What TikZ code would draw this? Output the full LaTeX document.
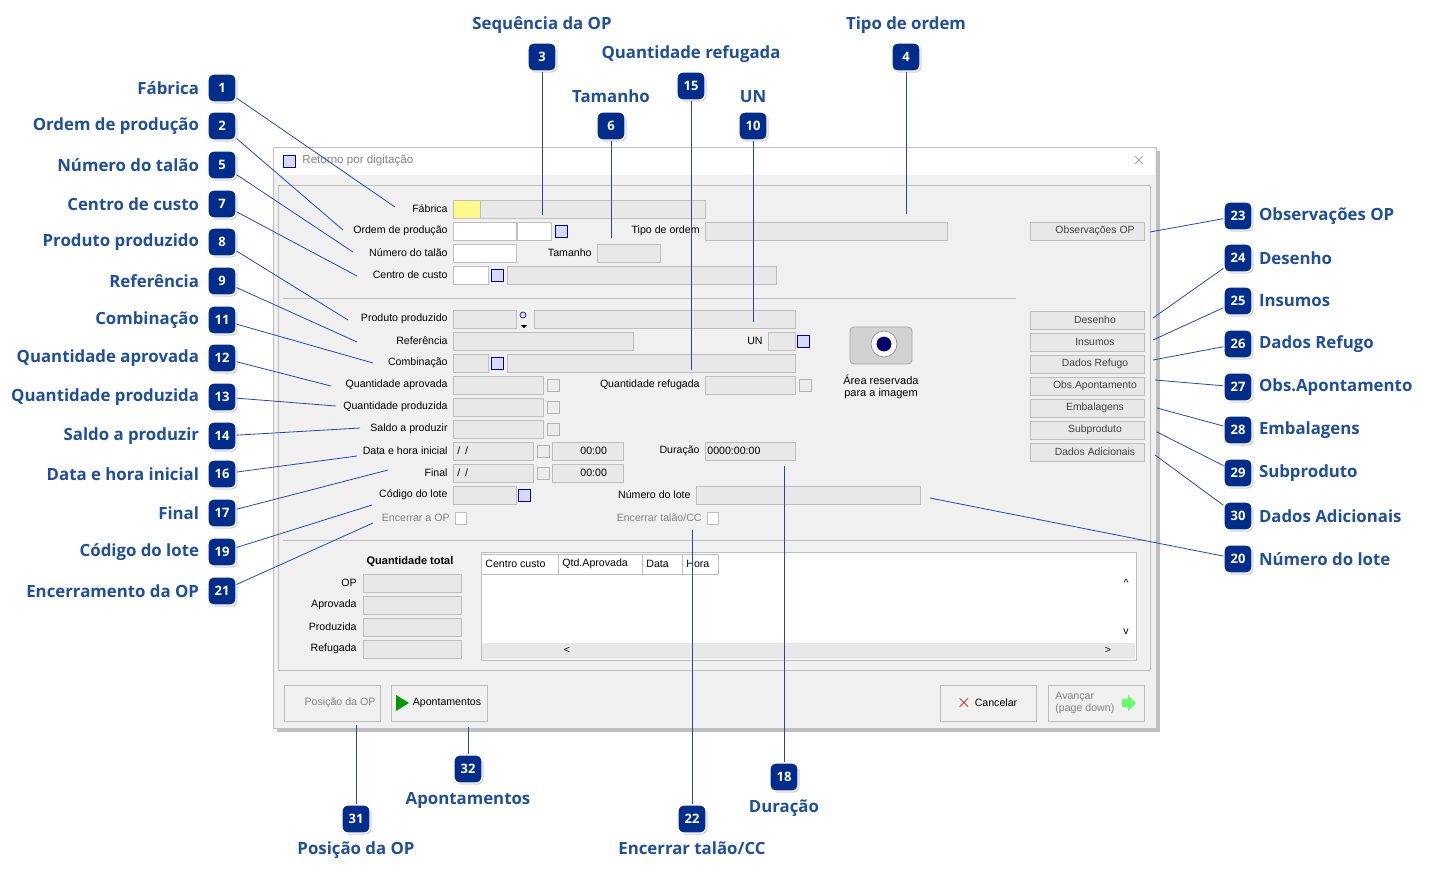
\documentclass[tikz,border=0pt]{standalone}
\usepackage{fontspec}
\setmainfont{Liberation Sans}
\newfontfamily\calloutfont{Open Sans}
\usetikzlibrary{positioning,shadows}
\definecolor{navy}{RGB}{0,45,140}
\definecolor{capBlue}{RGB}{31,78,154}
\definecolor{leadBlue}{RGB}{40,70,170}
\definecolor{winGray}{RGB}{240,240,240}
\definecolor{fldGray}{RGB}{232,232,232}
\definecolor{edgeGray}{RGB}{190,190,190}
\definecolor{txtGray}{RGB}{130,130,130}

\tikzset{
  badge/.style={rectangle,rounded corners=3pt,fill=navy,draw=white,line width=0.6pt,
    minimum size=14pt,inner sep=0pt,text=white,font=\calloutfont\bfseries\fontsize{6.5}{7}\selectfont,
    drop shadow={shadow xshift=0.8pt,shadow yshift=-0.8pt,opacity=0.35}},
  callout/.style={text=capBlue,font=\calloutfont\bfseries\fontsize{8.4}{10}\selectfont,inner sep=1pt},
  lead/.style={draw=leadBlue,line width=0.4pt},
  fld/.style={draw=edgeGray,fill=fldGray,line width=0.4pt},
  wfld/.style={draw=edgeGray,fill=white,line width=0.4pt},
  lbl/.style={font=\fontsize{5.3}{6}\selectfont,inner sep=0pt,anchor=east},
  glbl/.style={lbl,text=txtGray},
  btn/.style={draw=edgeGray,fill=fldGray,minimum width=57pt,minimum height=9pt,inner sep=0pt,
    font=\fontsize{5.2}{6}\selectfont,text=black!75},
  bigbtn/.style={draw=edgeGray,fill=winGray,minimum width=48pt,minimum height=18pt,inner sep=0pt,
    font=\fontsize{5.3}{6}\selectfont,align=left},
  ico/.style={draw=blue!60!black,fill=blue!15,line width=0.3pt},
  gico/.style={draw=gray!60,fill=gray!15,line width=0.3pt}
}

\begin{document}
\begin{tikzpicture}[x=0.5pt,y=-0.5pt]
\useasboundingbox (0,0) rectangle (1432,880);
%------------------------------------------------------------------------
% The window
%------------------------------------------------------------------------
\fill[black,opacity=0.25] (277,151) rectangle (1160,732);
\draw[edgeGray,fill=winGray] (273,147) rectangle (1156,728);
\fill[white] (274,148) rectangle (1155,175);
\draw[ico] (283,155) rectangle (295,167);
\node[lbl,anchor=west,text=txtGray,font=\fontsize{5.8}{7}\selectfont] (title) at (302,161) {Retorno por digitação};
\node[font=\fontsize{8}{8}\selectfont,text=txtGray] (close) at (1139,160) {$\times$};
\draw[edgeGray] (278,185) rectangle (1150,670);
\draw[edgeGray] (283,298) -- (1016,298);
\draw[edgeGray] (283,540) -- (1146,540);
%------------------------------------------------------------------------
% Fields of the form
%------------------------------------------------------------------------
\node[lbl] (lFab) at (448,209) {Fábrica};
\draw[fld,fill=yellow!45] (453,200) rectangle (480,218);
\draw[fld] (480,200) rectangle (705,218);
\node[lbl] (lOrd) at (448,231) {Ordem de produção};
\draw[wfld] (453,222) rectangle (516,240);
\draw[wfld] (517,222) rectangle (551,240);
\draw[ico] (555,225) rectangle (567,237);
\node[lbl] (lTipo) at (700,231) {Tipo de ordem};
\draw[fld] (705,222) rectangle (947,240);
\node[lbl] (lTal) at (448,253) {Número do talão};
\draw[wfld] (453,244) rectangle (516,262);
\node[lbl] (lTam) at (592,253) {Tamanho};
\draw[fld] (597,244) rectangle (660,262);
\node[lbl] (lCC) at (448,275) {Centro de custo};
\draw[wfld] (453,266) rectangle (488,284);
\draw[ico] (491,269) rectangle (503,281);
\draw[fld] (507,266) rectangle (776,284);

\node[lbl] (lProd) at (448,319) {Produto produzido};
\draw[fld] (453,310) rectangle (516,328);
\draw[ico] (523,315) circle (3);
\fill (521,325) -- (527,325) -- (524,328) -- cycle;
\draw[fld] (534,310) rectangle (795,328);
\node[lbl] (lRef) at (448,341) {Referência};
\draw[fld] (453,332) rectangle (633,350);
\node[lbl] (lUN) at (763,341) {UN};
\draw[fld] (768,332) rectangle (795,350);
\draw[ico] (797,335) rectangle (809,347);
\node[lbl] (lComb) at (448,363) {Combinação};
\draw[fld] (453,354) rectangle (488,372);
\draw[ico] (491,357) rectangle (503,369);
\draw[fld] (507,354) rectangle (795,372);
\node[lbl] (lApr) at (448,385) {Quantidade aprovada};
\draw[fld] (453,376) rectangle (543,394);
\draw[gico] (547,379) rectangle (559,391);
\node[lbl] (lRefug) at (700,385) {Quantidade refugada};
\draw[fld] (705,376) rectangle (795,394);
\draw[gico] (799,379) rectangle (811,391);
\node[lbl] (lPrd) at (448,407) {Quantidade produzida};
\draw[fld] (453,398) rectangle (543,416);
\draw[gico] (547,401) rectangle (559,413);
\node[lbl] (lSaldo) at (448,429) {Saldo a produzir};
\draw[fld] (453,420) rectangle (543,438);
\draw[gico] (547,423) rectangle (559,435);
\node[lbl] (lIni) at (448,451) {Data e hora inicial};
\draw[fld] (453,442) rectangle (533,460);
\node[lbl,anchor=west] (vIni) at (457,451) {/ \,/};
\draw[gico] (537,445) rectangle (549,457);
\draw[fld] (552,442) rectangle (623,460);
\node[lbl,anchor=west] (hIni) at (580,451) {00:00};
\node[lbl] (lDur) at (700,451) {Duração};
\draw[fld] (705,442) rectangle (795,460);
\node[lbl,anchor=west] (vDur) at (707,451) {0000:00:00};
\node[lbl] (lFin) at (448,473) {Final};
\draw[fld] (453,464) rectangle (533,482);
\node[lbl,anchor=west] (vFin) at (457,473) {/ \,/};
\draw[gico] (537,467) rectangle (549,479);
\draw[fld] (552,464) rectangle (623,482);
\node[lbl,anchor=west] (hFin) at (580,473) {00:00};
\node[lbl] (lLote) at (448,495) {Código do lote};
\draw[fld] (453,486) rectangle (516,504);
\draw[ico] (518,489) rectangle (530,501);
\node[lbl] (lNLote) at (691,495) {Número do lote};
\draw[fld] (696,486) rectangle (920,504);
\node[glbl] (lEncOP) at (450,518) {Encerrar a OP};
\draw[wfld] (455,512) rectangle (466,524);
\node[glbl] (lEncTal) at (702,518) {Encerrar talão/CC};
\draw[wfld] (707,512) rectangle (718,524);
%------------------------------------------------------------------------
% Totals and grid
%------------------------------------------------------------------------
\node[lbl,anchor=center,font=\bfseries\fontsize{5.5}{6}\selectfont] (lTot) at (410,562) {Quantidade total};
\foreach \t/\y in {OP/583,Aprovada/605,Produzida/627,Refugada/649}{
  \node[lbl] at (357,\y) {\t};
  \draw[fld] (363,\y-9) rectangle (461,\y+9);
}
\draw[edgeGray,fill=white] (481,552) rectangle (1136,660);
\fill[fldGray] (482,643) rectangle (1135,659);
\foreach \a/\b/\t in {481/558/Centro custo,558/642/Qtd.Aprovada,642/682/Data,682/718/Hora}{
  \draw[edgeGray,fill=white] (\a,554) rectangle (\b,574);
  \node[lbl,anchor=west] at (\a+4,564) {\t};
}
\node[lbl,anchor=center] at (1126,583) {\^{}};
\node[lbl,anchor=center] at (1126,632) {v};
\node[lbl,anchor=center] at (567,650) {<};
\node[lbl,anchor=center] at (1108,650) {>};
%------------------------------------------------------------------------
% Image area and side buttons
%------------------------------------------------------------------------
\draw[gray!70,fill=gray!35,rounded corners=2pt] (850,327) rectangle (912,364);
\draw[gray!80,fill=white] (884,344) circle (13);
\draw[blue!50!black,fill=blue!40!black] (884,344) circle (7);
\node[lbl,anchor=center,font=\fontsize{5.5}{6}\selectfont] (img1) at (881,380) {Área reservada};
\node[lbl,anchor=center,font=\fontsize{5.5}{6}\selectfont] (img2) at (881,394) {para a imagem};
\node[btn] (bObs) at (1087,231) {\hspace{8pt}Observações OP};
\foreach \y/\t in {320/Desenho,342/Insumos,364/Dados Refugo,386/Obs.Apontamento,408/Embalagens,430/Subproduto,452/Dados Adicionais}{
  \node[btn] at (1087,\y) {\hspace{8pt}\t};
}
\node[bigbtn,text=txtGray] (bPos) at (332,703) {\hspace{8pt}Posição da OP};
\node[bigbtn] (bApt) at (439,703) {\hspace{8pt}Apontamentos};
\fill[green!60!black] (396,695) -- (396,711) -- (409,703) -- cycle;
\node[bigbtn] (bCan) at (988,703) {\hspace{8pt}Cancelar};
\node[red!80!black,font=\bfseries\fontsize{9}{9}\selectfont] at (964,703) {$\times$};
\node[bigbtn,text=txtGray] (bAv) at (1096,703) {};
\node[lbl,anchor=west,align=left,text=txtGray] (tAv) at (1055,703) {Avançar\\(page down)};
\fill[green!60] (1122,699) -- (1128,699) -- (1128,695) -- (1136,703) -- (1128,711) -- (1128,707) -- (1122,707) -- cycle;
%------------------------------------------------------------------------
% The callouts
%------------------------------------------------------------------------
\foreach \n/\y/\t/\x/\ey in {1/88/Fábrica/395/207,2/126/Ordem de produção/343/230,5/165/Número do talão/353/252,
  7/204/Centro de custo/357/276,8/242/Produto produzido/348/320,9/281/Referência/357/342,
  11/320/Combinação/373/363,12/358/Quantidade aprovada/331/386,13/397/Quantidade produzida/336/406,
  14/436/Saldo a produzir/360/428,16/474/Data e hora inicial/357/456,17/513/Final/388/470,
  19/552/Código do lote/372/505,21/591/Encerramento da OP/373/523}{
  \node[badge] (b\n) at (222,\y) {\n};
  \node[callout,left=3pt of b\n] {\t};
  \coordinate (e\n) at (\x,\ey);
  \draw[lead] (b\n) -- (e\n);
}
\foreach \n/\y/\t/\x/\ey in {23/216/Observações OP/1150/232,24/258/Desenho/1153/318,25/301/Insumos/1153/340,
  26/344/Dados Refugo/1153/360,27/387/Obs.Apontamento/1155/380,28/430/Embalagens/1157/408,
  29/473/Subproduto/1157/432,30/516/Dados Adicionais/1155/455,20/559/Número do lote/930/498}{
  \node[badge] (b\n) at (1238,\y) {\n};
  \node[callout,right=2pt of b\n] {\t};
  \coordinate (e\n) at (\x,\ey);
  \draw[lead] (b\n) -- (e\n);
}
\foreach \n/\x/\y/\t/\ey in {3/542/57/Sequência da OP/215,4/906/57/Tipo de ordem/214,15/691/86/Quantidade refugada/370,
  6/611/126/Tamanho/238,10/753/126/UN/322}{
  \node[badge] (b\n) at (\x,\y) {\n};
  \node[callout,above=3pt of b\n] {\t};
  \coordinate (e\n) at (\x,\ey);
  \draw[lead] (b\n) -- (e\n);
}
\foreach \n/\x/\y/\t/\ey in {31/356/819/Posição da OP/725,32/468/769/Apontamentos/727,22/692/819/{Encerrar talão/CC}/530,
  18/784/777/Duração/466}{
  \node[badge] (b\n) at (\x,\y) {\n};
  \node[callout,below=3pt of b\n] {\t};
  \coordinate (e\n) at (\x,\ey);
  \draw[lead] (b\n) -- (e\n);
}
\end{tikzpicture}
\end{document}
